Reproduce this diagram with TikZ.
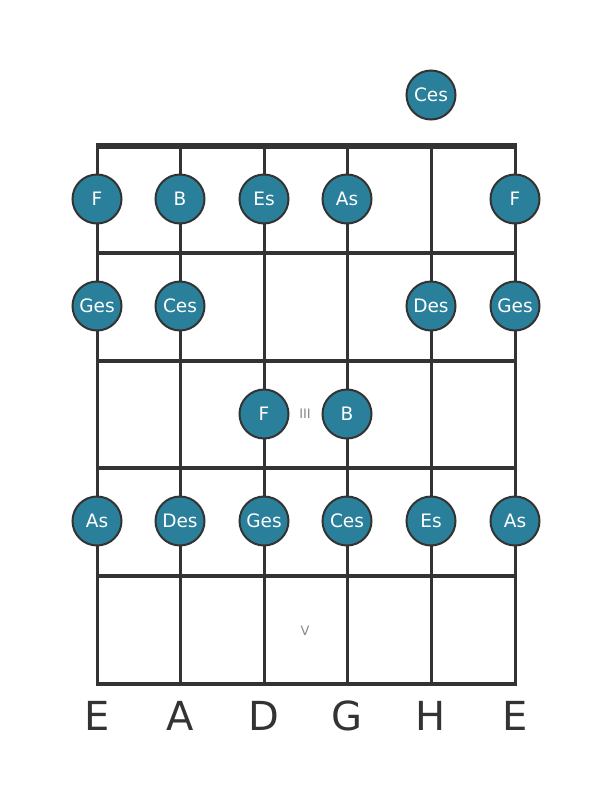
\documentclass[tikz,border=0pt]{standalone}
\usepackage{fontspec}
\setmainfont{DejaVu Sans}
\usetikzlibrary{calc}
\definecolor{note_fill}{HTML}{2A7F9B}
\definecolor{board_line}{HTML}{333333}
\definecolor{mark_gray}{HTML}{888888}
\tikzset{
  fret line/.style={board_line, line width=4.5pt},
  nut line/.style={board_line, line width=6pt},
  string line/.style={board_line, line width=3pt},
  note/.style={circle, draw=board_line, line width=2pt, fill=note_fill,
    minimum size=49pt, inner sep=0pt, text=white,
    font=\fontsize{18.5}{18.5}\selectfont},
  fret mark/.style={mark_gray, font=\fontsize{13}{13}\selectfont},
  string name/.style={board_line, font=\fontsize{40}{40}\selectfont}
}

\begin{document}
\begin{tikzpicture}[x=1pt, y=-1pt]
\useasboundingbox (0,0) rectangle (611,801);

% Strings
\foreach \x [count=\i] in {97,180,264,347,431,515}{
  \coordinate (s\i-top) at (\x,146);
  \coordinate (s\i-bot) at (\x,684);
  \draw[string line] (s\i-top) -- (s\i-bot);
}

% Frets
\draw[nut line] ($(s1-top)+(-1.5,0)$) -- ($(s6-top)+(1.5,0)$);
\foreach \y [count=\j] in {253,361,468,576,684}{
  \coordinate (f\j-l) at (95.5,\y);
  \coordinate (f\j-r) at (516.5,\y);
  \draw[fret line] (f\j-l) -- (f\j-r);
}

% Fret position marks
\node[fret mark] (mark3) at (305,414) {III};
\node[fret mark] (mark5) at (305,631) {V};

% Open string note
\node[note] (n0-5) at (431,95) {Ces};

% Notes on the frets
\foreach \x/\y/\n/\t in {
  97/199/1-1/F, 180/199/1-2/B, 264/199/1-3/Es, 347/199/1-4/As, 515/199/1-6/F,
  97/306/2-1/Ges, 180/306/2-2/Ces, 431/306/2-5/Des, 515/306/2-6/Ges,
  264/414/3-3/F, 347/414/3-4/B,
  97/521/4-1/As, 180/521/4-2/Des, 264/521/4-3/Ges, 347/521/4-4/Ces,
  431/521/4-5/Es, 515/521/4-6/As}{
  \node[note] (n\n) at (\x,\y) {\t};
}

% String names
\foreach \x/\t [count=\i] in {97/E,180/A,264/D,347/G,431/H,515/E}{
  \node[string name] (name\i) at (\x,716) {\t};
}

\end{tikzpicture}
\end{document}
